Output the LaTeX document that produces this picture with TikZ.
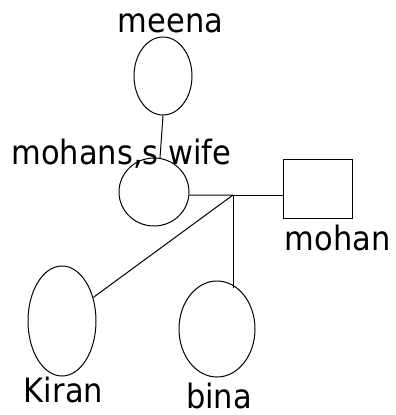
\documentclass[tikz,border=0pt]{standalone}
\usepackage{fontspec}
\setmainfont{DejaVu Sans}
\usetikzlibrary{shapes.geometric}
\begin{document}
\begin{tikzpicture}[x=1pt,y=-1pt,
  person/.style={draw=black,line width=1pt,ellipse,inner sep=0pt},
  male/.style={draw=black,line width=1pt,rectangle,inner sep=0pt},
  link/.style={draw=black,line width=1pt},
  lbl/.style={font=\fontsize{30.5}{36}\selectfont,anchor=base,inner sep=0pt,text=black,yscale=1.1,text depth=0pt}]
\useasboundingbox (0,0) rectangle (396,415);
% people
\node[person,minimum width=58pt,minimum height=78pt] (meena) at (163,76) {};
\node[person,minimum width=70pt,minimum height=68pt] (wife) at (154,192) {};
\node[male,minimum width=69pt,minimum height=59pt] (mohan) at (317.5,188.5) {};
\node[person,minimum width=68pt,minimum height=110pt] (kiran) at (62,321) {};
\node[person,minimum width=76pt,minimum height=96pt] (bina) at (217,329) {};
% labels
\node[lbl] (tmeena) at (170.5,32) {meena};
\node[lbl] (twife) at (121.5,164) {mohans,s wife};
\node[lbl] (tmohan) at (337.5,250) {mohan};
\node[lbl] (tkiran) at (63.5,402) {Kiran};
\node[lbl] (tbina) at (219,408) {bina};
% connectors
\coordinate (J) at (233,195);
\coordinate (bt) at (233,288);
\draw[link] (meena.south) -- (wife.80);
\draw[link] (wife.-5) -- (J);
\draw[link] (J) -- (mohan.west |- J);
\draw[link] (J) -- (bt);
\draw[link] (J) -- (kiran.37);
\end{tikzpicture}
\end{document}
